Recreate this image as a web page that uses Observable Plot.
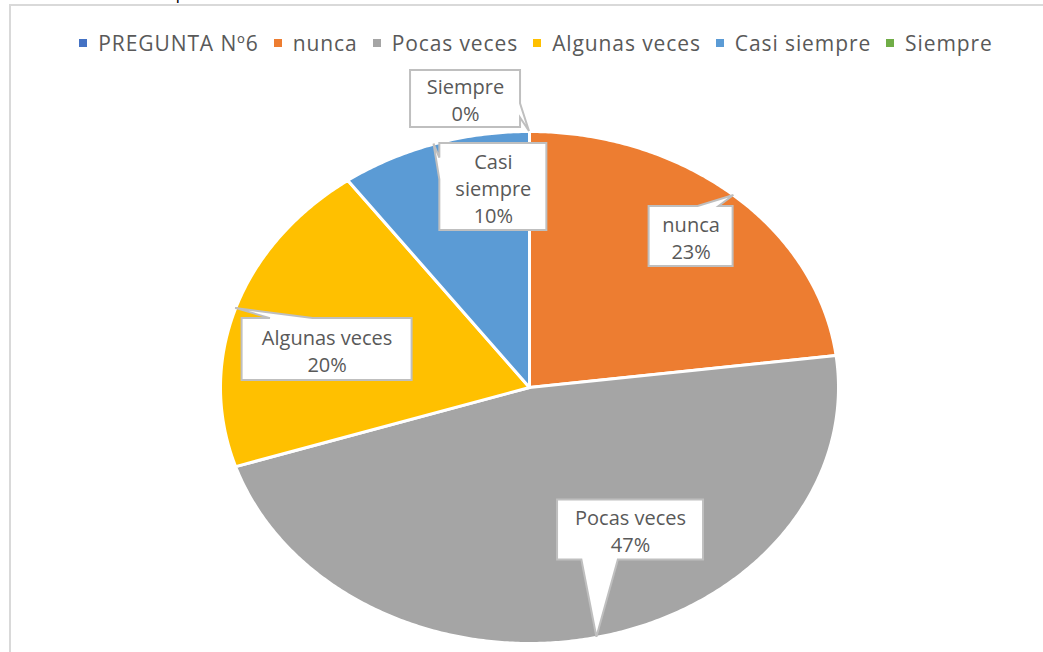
<!DOCTYPE html>
<html>
<head>
<meta charset="utf-8">
<script src="https://cdn.jsdelivr.net/npm/d3@7"></script>
<script src="https://cdn.jsdelivr.net/npm/@observablehq/plot@0.6"></script>
<style>
  body { margin: 0; background: #fff; width: 1043px; height: 652px; overflow: hidden; position: relative; font-family: "Open Sans", sans-serif; }
  #frameTop { position: absolute; left: 9px; top: 4px; width: 1034px; height: 2px; background: #d9d9d9; }
  #frameLeft { position: absolute; left: 9px; top: 4px; width: 2px; height: 648px; background: #d9d9d9; }
  #frag { position: absolute; left: 176px; top: -14px; font-size: 16px; color: #000; font-family: "Liberation Sans", sans-serif; }
  #legend { height: 51px; padding-top: 17px; padding-left: 29px; display: flex; justify-content: center; align-items: center; line-height: 24px; font-size: 21px; letter-spacing: 0.9px; color: #595959; }
  .item { display: flex; align-items: center; margin-right: 15px; }
  .item:last-child { margin-right: 0; }
  .sw { width: 8px; height: 8px; margin-right: 11px; }
  #chart svg { display: block; }
</style>
</head>
<body>
<div id="frag">p</div>
<div id="frameTop"></div>
<div id="frameLeft"></div>
<div id="legend"></div>
<div id="chart"></div>
<script>
// ---- data ----
const seriesName = "PREGUNTA Nº6";
const seriesColor = "#4472C4";
const categories = ["nunca", "Pocas veces", "Algunas veces", "Casi siempre", "Siempre"];
const values = [23, 47, 20, 10, 0];
const colors = ["#ED7D31", "#A5A5A5", "#FFC000", "#5B9BD5", "#70AD47"];
const labelTexts = ["nunca", "Pocas veces", "Algunas veces", "Casi\nsiempre", "Siempre"];

// ---- layout (callout box centres in pie units, box sizes in px) ----
const boxCenters = [[0.523, 0.590], [0.327, -0.557], [-0.655, 0.148], [-0.117, 0.783], [-0.207, 1.127]];
const boxSizes = [[84, 60], [146, 60], [170, 62], [107, 87], [110, 57]];

// legend
const legend = d3.select("#legend");
[[seriesName, seriesColor], ...categories.map((c, i) => [c, colors[i]])].forEach(([t, c]) => {
  const it = legend.append("div").attr("class", "item");
  it.append("div").attr("class", "sw").style("background", c);
  it.append("span").text(t);
});

// pie geometry from data
const total = d3.sum(values);
const pie = d3.pie().sort(null).value(d => d.value).startAngle(0).endAngle(2 * Math.PI);
const rowsIn = categories.map((c, i) => ({category: c, value: values[i], i}));
const arcs = pie(rowsIn);
const slicePts = [];
for (const a of arcs) {
  if (a.endAngle - a.startAngle <= 0) continue;
  const c = a.data.category;
  slicePts.push({category: c, x: 0, y: 0});
  const n = Math.max(2, Math.ceil((a.endAngle - a.startAngle) / (Math.PI / 360)));
  for (let k = 0; k <= n; k++) {
    const t = a.startAngle + (a.endAngle - a.startAngle) * k / n;
    slicePts.push({category: c, x: Math.sin(t), y: Math.cos(t)});
  }
}
const labels = arcs.map((a, i) => {
  const m = (a.startAngle + a.endAngle) / 2;
  return {
    category: a.data.category,
    text: labelTexts[i] + "\n" + Math.round(a.data.value / total * 100) + "%",
    bx: boxCenters[i][0], by: boxCenters[i][1],
    w: boxSizes[i][0], h: boxSizes[i][1],
    tx: Math.sin(m), ty: Math.cos(m)
  };
});

function callouts(index, scales) {
  const g = d3.create("svg:g");
  for (const d of labels) {
    const cx = scales.x(d.bx), cy = scales.y(d.by);
    const tx = scales.x(d.tx), ty = scales.y(d.ty);
    const w = d.w, h = d.h;
    const L = cx - w / 2, R = cx + w / 2, T = cy - h / 2, B = cy + h / 2;
    const dx = tx - cx, dy = ty - cy;
    const vertical = Math.abs(dy) - Math.abs(dx) * h / w > 0;
    let p;
    if (vertical) {
      const b1 = dx < 0 ? L + w * 2 / 12 : L + w * 7 / 12;
      const b2 = dx < 0 ? L + w * 5 / 12 : L + w * 10 / 12;
      if (dy < 0) p = [[L, T], [b1, T], [tx, ty], [b2, T], [R, T], [R, B], [L, B]];
      else p = [[L, T], [R, T], [R, B], [b2, B], [tx, ty], [b1, B], [L, B]];
    } else {
      const y1 = dy < 0 ? T + h * 2 / 12 : T + h * 7 / 12;
      const y2 = dy < 0 ? T + h * 5 / 12 : T + h * 10 / 12;
      if (dx > 0) p = [[L, T], [R, T], [R, y1], [tx, ty], [R, y2], [R, B], [L, B]];
      else p = [[L, T], [R, T], [R, B], [L, B], [L, y2], [tx, ty], [L, y1]];
    }
    g.append("path")
      .attr("d", "M" + p.map(q => q.join(",")).join("L") + "Z")
      .attr("fill", "#fff").attr("stroke", "#bfbfbf").attr("stroke-width", 2)
      .attr("stroke-linejoin", "miter");
  }
  return g.node();
}

const chart = Plot.plot({
  width: 1043,
  height: 584,
  x: {domain: [-1, 1], range: [220, 838], axis: null},
  y: {domain: [-1, 1], range: [575, 63], axis: null},
  color: {domain: categories, range: colors},
  style: {background: "transparent", overflow: "visible"},
  marks: [
    Plot.line(slicePts, {x: "x", y: "y", z: "category", fill: "category", stroke: "#fff", strokeWidth: 3, curve: "linear-closed", strokeLinejoin: "round"}),
    callouts,
    Plot.text(labels, {x: "bx", y: "by", text: "text", fill: "#595959", fontSize: 20, lineHeight: 1.35, fontFamily: "Open Sans, sans-serif"})
  ]
});
document.getElementById("chart").appendChild(chart);
</script>
</body>
</html>
